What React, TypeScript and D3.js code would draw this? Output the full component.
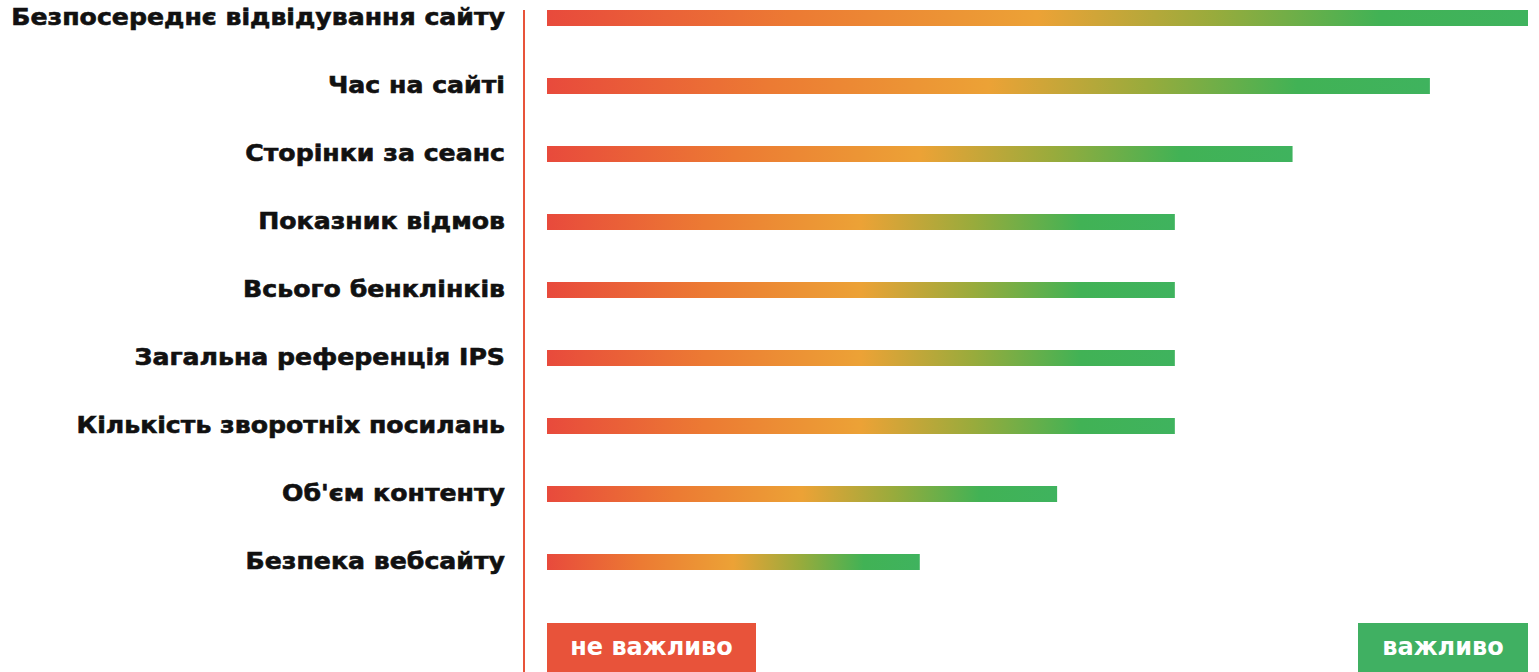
import React from "react";
import * as d3 from "d3";

const categories = [
  "Безпосереднє відвідування сайту",
  "Час на сайті",
  "Сторінки за сеанс",
  "Показник відмов",
  "Всього бенклінків",
  "Загальна референція IPS",
  "Кількість зворотніх посилань",
  "Об'єм контенту",
  "Безпека вебсайту",
];
const values = [100, 90, 76, 64, 64, 64, 64, 52, 38];
const lowLabel = "не важливо";
const highLabel = "важливо";

const W = 1539;
const H = 672;
const FONT = "'DejaVu Sans', sans-serif";

export default function App() {
  const x = d3.scaleLinear().domain([0, 100]).range([547, 1528]);
  const y = d3.scaleBand().domain(categories).range([10, 570]).paddingInner(52 / 68).paddingOuter(0);
  const bh = y.bandwidth();
  return (
    <div style={{ position: "fixed", left: 0, top: 0 }}>
      <svg width={W} height={H} style={{ display: "block", background: "#fff" }}>
        <defs>
          <linearGradient id="barGrad" x1="0" x2="1" y1="0" y2="0">
            <stop offset="0" stopColor="#e84a3c" />
            <stop offset="0.25" stopColor="#ec7a33" />
            <stop offset="0.5" stopColor="#eca236" />
            <stop offset="0.68" stopColor="#98ab3c" />
            <stop offset="0.85" stopColor="#41b255" />
            <stop offset="1" stopColor="#3fb35e" />
          </linearGradient>
        </defs>
        <line x1={524} x2={524} y1={10} y2={H} stroke="#e8533a" strokeWidth={2} />
        {categories.map((c, i) => {
          const yc = (y(c) as number) + bh / 2;
          return (
            <g key={c}>
              <g transform={`translate(505,${yc + 6.5}) scale(1.12,1)`}>
                <text
                  x={0}
                  y={0}
                  textAnchor="end"
                  fontFamily={FONT}
                  fontWeight={700}
                  fontSize={22.5}
                  fill="#111"
                  stroke="#111"
                  strokeWidth={0.6}
                >
                  {c}
                </text>
              </g>
              <rect x={x(0)} y={y(c)} width={x(values[i]) - x(0)} height={bh} fill="url(#barGrad)" />
            </g>
          );
        })}
        <rect x={547} y={623} width={209} height={49} fill="#e8533a" />
        <text x={651.5} y={655} textAnchor="middle" fontFamily={FONT} fontWeight={700} fontSize={24} fill="#fff">
          {lowLabel}
        </text>
        <rect x={1358} y={623} width={170} height={49} fill="#40b062" />
        <text x={1443} y={655} textAnchor="middle" fontFamily={FONT} fontWeight={700} fontSize={24} fill="#fff">
          {highLabel}
        </text>
      </svg>
    </div>
  );
}
